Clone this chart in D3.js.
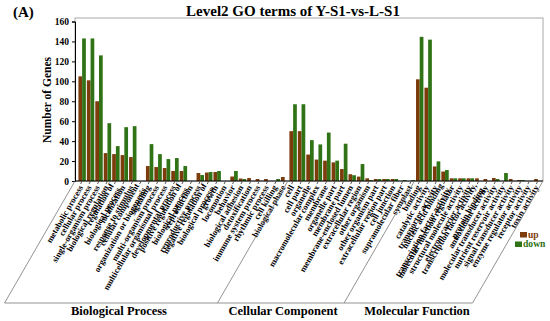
<!DOCTYPE html>
<meta charset="utf-8">
<style>
body { margin: 0; background: #fff; }
text { font-family: 'Liberation Serif', 'Times New Roman', serif; font-weight: bold; }
</style>
<body>
<svg class="gochart"></svg>
<script src="https://d3js.org/d3.v7.min.js"></script>
<script>
// canvas
let rwidth = 550, rheight = 321;
let margin = {top: 18, bottom: 140, left: 75, right: 7};

// terms per ontology (long ones are wrapped on two lines)
let bpTerms = ['metabolic process','cellular process','single-organism process','biological regulation',
  'regulation of|biological process','localization','response to stimulus','cellular component|organization or biogenesis',
  'signaling','multi-organism process','multicellular organismal process','developmental process',
  'positive regulation of|biological process','reproduction','reproductive process','negative regulation of|biological process',
  'growth','locomotion','behavior','biological adhesion','detoxification','immune system process',
  'rhythmic process','cell killing','biological phase'];
let bpUp   = [105,101,80,28,27,26,24,0,15,14,13,10,10,0,8,8.5,9,0,4.5,2.5,3,2,2,0,4];
let bpDown = [143,143,126,58,35,54,55,0,37,27,22,23,15,0,6,9,10,0,10,2,0,0,0,2,0];

let ccTerms = ['cell','cell part','organelle','macromolecular complex','membrane','organelle part','membrane part',
  'membrane-enclosed lumen','extracellular region','other organism','other organism part','extracellular region part',
  'cell junction','supramolecular fiber','symplast'];
let ccUp   = [50,50,26.5,21.5,20.4,18.7,12,6.8,4.4,2.7,2,2,2,0,0];
let ccDown = [77,77,41,36.7,48.6,20.4,37.4,5.8,17,1,2,2,2,1,1];

let mfTerms = ['binding','catalytic activity','transporter activity','nucleic acid binding|transcription factor activity',
  'molecular function regulator','structural molecule activity','electron carrier activity',
  'transcription factor activity,|protein binding','antioxidant activity','molecular transducer activity',
  'nutrient reservoir activity','signal transducer activity','enzyme regulator activity','receptor activity','toxin activity'];
let mfUp   = [102,93.6,14.6,9.5,2.7,2.7,2.7,2.7,2,3,0,2,1,0,2];
let mfDown = [144.6,141.8,19.7,11,2.7,2.7,2.7,0,0,2,8,0,1,0,0];

let sections = ['Biological Process','Cellular Component','Molecular Function'];
let yTicks = [0,20,40,60,80,100,120,140,160];

let upColor = '#7d3c0c', downColor = '#2f7316';

let svg = d3.select('.gochart').attr('width', rwidth).attr('height', rheight);

// one flat table
let rows = [];
[[bpTerms,bpUp,bpDown,0],[ccTerms,ccUp,ccDown,1],[mfTerms,mfUp,mfDown,2]].forEach(s => {
  s[0].forEach((t,i) => rows.push({term: t, up: s[1][i], down: s[2][i], sec: s[3], key: s[3] + '-' + i}));
});

let x0 = margin.left + 3, x1 = rwidth - margin.right - 1;
let yBottom = 181, yTop = 21.5;

let xscale = d3.scaleBand().domain(rows.map(d => d.key)).range([x0, x1]).paddingInner(0.12).paddingOuter(0.05);
let xsub = d3.scaleBand().domain(['up','down']).range([0, xscale.bandwidth()]);
let yscale = d3.scaleLinear().domain([0,160]).range([yBottom, yTop]);

// frame
svg.append('rect').attr('x', margin.left).attr('y', margin.top)
  .attr('width', rwidth - margin.right - margin.left).attr('height', yBottom - margin.top)
  .attr('fill', 'none').attr('stroke', '#a8a8a8').attr('stroke-width', 1);

// bars
let g = svg.append('g');
g.selectAll('rect.up').data(rows).join('rect')
  .attr('x', d => xscale(d.key) + xsub('up'))
  .attr('width', xsub.bandwidth())
  .attr('y', d => yscale(d.up))
  .attr('height', d => yBottom - yscale(d.up))
  .attr('fill', upColor);
g.selectAll('rect.down').data(rows).join('rect')
  .attr('x', d => xscale(d.key) + xsub('down'))
  .attr('width', xsub.bandwidth())
  .attr('y', d => yscale(d.down))
  .attr('height', d => yBottom - yscale(d.down))
  .attr('fill', downColor);

// y axis
let yaxis = svg.append('g').attr('transform', `translate(${margin.left},0)`)
  .call(d3.axisLeft(yscale).tickValues(yTicks).tickSize(3).tickFormat(d3.format('d')));
yaxis.selectAll('text').style('font-size', '9.5px').attr('fill', '#000');
yaxis.select('.domain').attr('stroke', '#000');

// x axis with slanted ticks
let xaxis = svg.append('g').attr('transform', `translate(0,${yBottom})`);
xaxis.append('line').attr('x1', margin.left).attr('x2', rwidth - margin.right).attr('stroke', '#000');
xaxis.selectAll('line.tk').data(rows).join('line')
  .attr('x1', d => xscale(d.key) + xscale.bandwidth() / 2)
  .attr('x2', d => xscale(d.key) + xscale.bandwidth() / 2 - 1.5)
  .attr('y1', 0).attr('y2', 3).attr('stroke', '#555');

let labels = xaxis.selectAll('text.lbl').data(rows).join('text')
  .attr('transform', d => `translate(${xscale(d.key) + xscale.bandwidth() / 2 - 1},5) rotate(-60)`)
  .style('font-size', '8.6px')
  .attr('text-anchor', 'end');
labels.each(function(d) {
  let parts = d.term.split('|');
  let el = d3.select(this);
  parts.forEach((p,i) => {
    el.append('tspan').attr('x', 0).attr('dy', i == 0 ? (parts.length > 1 ? '-0.1em' : '0.3em') : '0.95em').text(p);
  });
});

// section boundaries, slanted like the labels
let dx = 122 / Math.tan(Math.PI / 3);
let bounds = [margin.left,
  xscale(rows.find(d => d.sec == 1).key) - 1.5,
  xscale(rows.find(d => d.sec == 2).key) - 1.5,
  rwidth - margin.right];
bounds.forEach(b => {
  svg.append('line').attr('x1', b).attr('y1', yBottom).attr('x2', b - dx).attr('y2', yBottom + 122)
    .attr('stroke', '#777').attr('stroke-width', 0.8);
});
svg.append('line').attr('x1', bounds[0] - dx).attr('x2', bounds[3] - dx)
  .attr('y1', yBottom + 122).attr('y2', yBottom + 122).attr('stroke', '#777').attr('stroke-width', 0.8);

let secX = [119, 283, 417];
svg.selectAll('text.sec').data(sections).join('text')
  .attr('x', (d,i) => secX[i]).attr('y', 314.5)
  .attr('text-anchor', 'middle').style('font-size', '12.5px').text(d => d);

// titles
svg.append('text').attr('x', 13).attr('y', 17).style('font-size', '15px').text('(A)');
svg.append('text').attr('x', 293).attr('y', 15.5).attr('text-anchor', 'middle')
  .style('font-size', '15px').text('Level2 GO terms of Y-S1-vs-L-S1');
svg.append('text').attr('transform', 'translate(51,100) rotate(-90)').attr('text-anchor', 'middle')
  .style('font-size', '11.5px').text('Number of Genes');

// legend
let legend = [{name: 'up', c: upColor, x: 520, y: 232}, {name: 'down', c: downColor, x: 515, y: 241.5}];
legend.forEach(l => {
  svg.append('rect').attr('x', l.x).attr('y', l.y).attr('width', 7).attr('height', 5.5).attr('fill', l.c);
  svg.append('text').attr('x', l.x + 8).attr('y', l.y + 5.5).style('font-size', '9.6px').attr('fill', l.c).text(l.name);
});
</script>
</body>
